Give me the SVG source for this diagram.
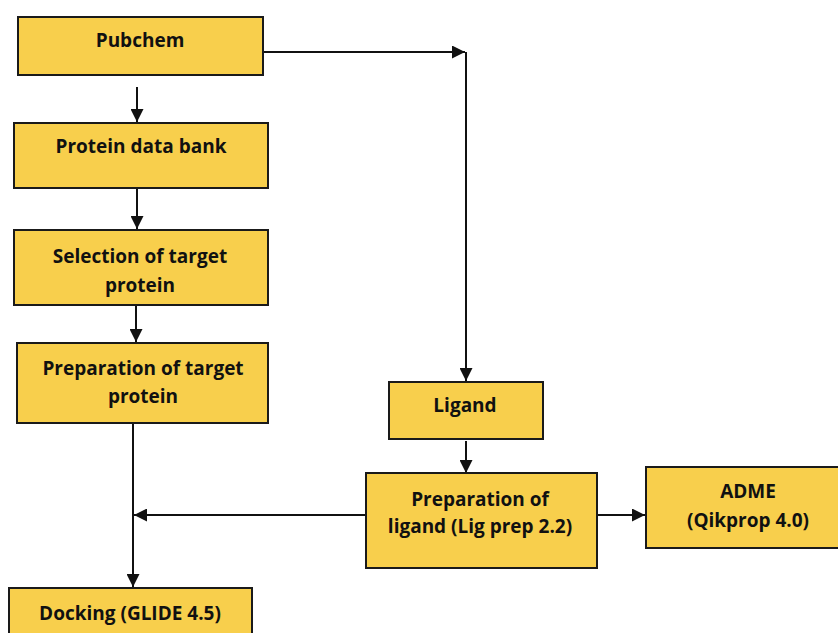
<svg xmlns="http://www.w3.org/2000/svg" width="838" height="633" viewBox="0 0 838 633">
<style>
.box{fill:#F8CF4C;stroke:#1a1a1a;stroke-width:2}
.t{font-family:"Open Sans",Lato,sans-serif;font-weight:bold;font-size:19px;fill:#111;text-anchor:middle}
.c{stroke:#111;stroke-width:2;fill:none}
</style>
<defs>
<marker id="ah" viewBox="0 0 10 10" refX="10" refY="5" markerWidth="6.5" markerHeight="6.5" markerUnits="strokeWidth" orient="auto">
<path d="M0,0 L10,5 L0,10 z" fill="#111"/>
</marker>
</defs>
<rect width="838" height="633" fill="#fff"/>
<g id="connectors">
<line class="c" x1="137" y1="87" x2="137" y2="122" marker-end="url(#ah)"/>
<line class="c" x1="137" y1="188" x2="137" y2="229" marker-end="url(#ah)"/>
<line class="c" x1="136" y1="306" x2="136" y2="342" marker-end="url(#ah)"/>
<line class="c" x1="133" y1="424" x2="133" y2="587" marker-end="url(#ah)"/>
<polyline class="c" points="263,52 465,52" marker-end="url(#ah)"/>
<line class="c" x1="466" y1="52" x2="466" y2="381" marker-end="url(#ah)"/>
<line class="c" x1="466" y1="441" x2="466" y2="473" marker-end="url(#ah)"/>
<line class="c" x1="366" y1="515" x2="134" y2="515" marker-end="url(#ah)"/>
<line class="c" x1="597" y1="515" x2="645" y2="515" marker-end="url(#ah)"/>
</g>
<g id="pubchem"><rect class="box" x="18" y="17" width="245" height="58"/><text class="t" x="140" y="47">Pubchem</text></g>
<g id="pdb"><rect class="box" x="14" y="123" width="254" height="65"/><text class="t" x="141" y="153">Protein data bank</text></g>
<g id="selection"><rect class="box" x="14" y="230" width="254" height="75"/><text class="t" x="140" y="263">Selection of target</text><text class="t" x="140" y="292">protein</text></g>
<g id="prep-target"><rect class="box" x="17" y="343" width="251" height="80"/><text class="t" x="143" y="375">Preparation of target</text><text class="t" x="143" y="403">protein</text></g>
<g id="docking"><rect class="box" x="9" y="588" width="243" height="60"/><text class="t" x="130" y="620">Docking (GLIDE 4.5)</text></g>
<g id="ligand"><rect class="box" x="389" y="382" width="154" height="57"/><text class="t" x="465" y="412">Ligand</text></g>
<g id="prep-ligand"><rect class="box" x="366" y="473" width="231" height="95"/><text class="t" x="480" y="506">Preparation of</text><text class="t" x="480" y="533">ligand (Lig prep 2.2)</text></g>
<g id="adme"><rect class="box" x="646" y="467" width="196" height="81"/><text class="t" x="748" y="498">ADME</text><text class="t" x="748" y="527">(Qikprop 4.0)</text></g>
</svg>
